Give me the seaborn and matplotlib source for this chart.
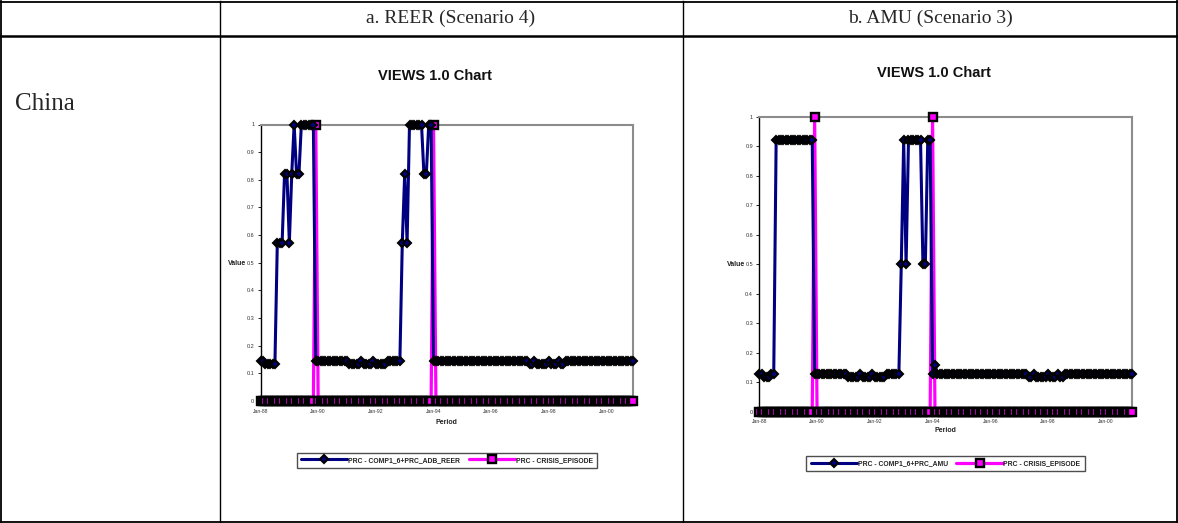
import matplotlib
matplotlib.use("Agg")
import matplotlib.pyplot as plt
from matplotlib.lines import Line2D
import numpy as np
import pandas as pd
import seaborn as sns

# ---------------------------------------------------------------- data
# Monthly observations, Jan-1988 .. Dec-2000 (one row of 12 per year)
reer_signal = [
    0.146, 0.146, 0.134, 0.134, 0.134, 0.134, 0.134, 0.573, 0.573, 0.573, 0.821, 0.821,  # 1988
    0.573, 0.821, 1.000, 0.821, 0.821, 1.000, 1.000, 1.000, 1.000, 1.000, 1.000, 0.146,  # 1989
    0.146, 0.146, 0.146, 0.146, 0.146, 0.146, 0.146, 0.146, 0.146, 0.146, 0.146, 0.146,  # 1990
    0.146, 0.134, 0.134, 0.134, 0.134, 0.134, 0.146, 0.134, 0.134, 0.134, 0.134, 0.146,  # 1991
    0.134, 0.134, 0.134, 0.134, 0.134, 0.146, 0.146, 0.146, 0.146, 0.146, 0.146, 0.573,  # 1992
    0.821, 0.573, 1.000, 1.000, 1.000, 1.000, 1.000, 1.000, 0.821, 0.821, 1.000, 1.000,  # 1993
    0.146, 0.146, 0.146, 0.146, 0.146, 0.146, 0.146, 0.146, 0.146, 0.146, 0.146, 0.146,  # 1994
    0.146, 0.146, 0.146, 0.146, 0.146, 0.146, 0.146, 0.146, 0.146, 0.146, 0.146, 0.146,  # 1995
    0.146, 0.146, 0.146, 0.146, 0.146, 0.146, 0.146, 0.146, 0.146, 0.146, 0.146, 0.146,  # 1996
    0.146, 0.146, 0.146, 0.146, 0.134, 0.134, 0.146, 0.134, 0.134, 0.134, 0.134, 0.134,  # 1997
    0.146, 0.134, 0.134, 0.134, 0.146, 0.134, 0.134, 0.146, 0.146, 0.146, 0.146, 0.146,  # 1998
    0.146, 0.146, 0.146, 0.146, 0.146, 0.146, 0.146, 0.146, 0.146, 0.146, 0.146, 0.146,  # 1999
    0.146, 0.146, 0.146, 0.146, 0.146, 0.146, 0.146, 0.146, 0.146, 0.146, 0.146, 0.146,  # 2000
]

amu_signal = [
    0.128, 0.128, 0.119, 0.119, 0.119, 0.128, 0.128, 0.921, 0.921, 0.921, 0.921, 0.921,  # 1988
    0.921, 0.921, 0.921, 0.921, 0.921, 0.921, 0.921, 0.921, 0.921, 0.921, 0.921, 0.128,  # 1989
    0.128, 0.128, 0.128, 0.128, 0.128, 0.128, 0.128, 0.128, 0.128, 0.128, 0.128, 0.128,  # 1990
    0.128, 0.119, 0.119, 0.119, 0.119, 0.119, 0.128, 0.119, 0.119, 0.119, 0.119, 0.128,  # 1991
    0.119, 0.119, 0.119, 0.119, 0.119, 0.128, 0.128, 0.128, 0.128, 0.128, 0.128, 0.500,  # 1992
    0.921, 0.500, 0.921, 0.921, 0.921, 0.921, 0.921, 0.921, 0.500, 0.500, 0.921, 0.921,  # 1993
    0.128, 0.159, 0.128, 0.128, 0.128, 0.128, 0.128, 0.128, 0.128, 0.128, 0.128, 0.128,  # 1994
    0.128, 0.128, 0.128, 0.128, 0.128, 0.128, 0.128, 0.128, 0.128, 0.128, 0.128, 0.128,  # 1995
    0.128, 0.128, 0.128, 0.128, 0.128, 0.128, 0.128, 0.128, 0.128, 0.128, 0.128, 0.128,  # 1996
    0.128, 0.128, 0.128, 0.128, 0.119, 0.119, 0.128, 0.119, 0.119, 0.119, 0.119, 0.119,  # 1997
    0.128, 0.119, 0.119, 0.119, 0.128, 0.119, 0.119, 0.128, 0.128, 0.128, 0.128, 0.128,  # 1998
    0.128, 0.128, 0.128, 0.128, 0.128, 0.128, 0.128, 0.128, 0.128, 0.128, 0.128, 0.128,  # 1999
    0.128, 0.128, 0.128, 0.128, 0.128, 0.128, 0.128, 0.128, 0.128, 0.128, 0.128, 0.128,  # 2000
]

crisis_episode = [
    0, 0, 0, 0, 0, 0, 0, 0, 0, 0, 0, 0,  # 1988
    0, 0, 0, 0, 0, 0, 0, 0, 0, 0, 0, 1,  # 1989
    0, 0, 0, 0, 0, 0, 0, 0, 0, 0, 0, 0,  # 1990
    0, 0, 0, 0, 0, 0, 0, 0, 0, 0, 0, 0,  # 1991
    0, 0, 0, 0, 0, 0, 0, 0, 0, 0, 0, 0,  # 1992
    0, 0, 0, 0, 0, 0, 0, 0, 0, 0, 0, 0,  # 1993
    1, 0, 0, 0, 0, 0, 0, 0, 0, 0, 0, 0,  # 1994
    0, 0, 0, 0, 0, 0, 0, 0, 0, 0, 0, 0,  # 1995
    0, 0, 0, 0, 0, 0, 0, 0, 0, 0, 0, 0,  # 1996
    0, 0, 0, 0, 0, 0, 0, 0, 0, 0, 0, 0,  # 1997
    0, 0, 0, 0, 0, 0, 0, 0, 0, 0, 0, 0,  # 1998
    0, 0, 0, 0, 0, 0, 0, 0, 0, 0, 0, 0,  # 1999
    0, 0, 0, 0, 0, 0, 0, 0, 0, 0, 0, 0,  # 2000
]

period_labels = pd.date_range("1988-01-01", periods=len(crisis_episode), freq="MS").strftime("%b-%y")
xtick_labels = ["Jan-88", "Jan-90", "Jan-92", "Jan-94", "Jan-96", "Jan-98", "Jan-00"]
ytick_labels = ["0", "0.1", "0.2", "0.3", "0.4", "0.5", "0.6", "0.7", "0.8", "0.9", "1"]

column_titles = ["a. REER (Scenario 4)", "b. AMU (Scenario 3)"]
row_title = "China"
chart_title = "VIEWS 1.0 Chart"
signal_names = ["PRC - COMP1_6+PRC_ADB_REER", "PRC - COMP1_6+PRC_AMU"]
crisis_name = "PRC - CRISIS_EPISODE"

# ---------------------------------------------------------------- style
sns.set_style("white")
plt.rcParams["font.family"] = ["Liberation Sans", "DejaVu Sans"]

NAVY = "#000080"
MAGENTA = "#FF00FF"
FRAME_GREY = "#8c8c8c"

SIGNAL_MARKER = dict(marker="D", markersize=4.3, markerfacecolor=NAVY,
                     markeredgecolor="black", markeredgewidth=1.5)
CRISIS_MARKER = dict(marker="s", markersize=5.2, markerfacecolor=MAGENTA,
                     markeredgecolor="black", markeredgewidth=1.7)

W, H = 1178, 523
fig = plt.figure(figsize=(W / 100, H / 100), dpi=100)
fig.patch.set_facecolor("white")


def fx(x):
    return x / W


def fy(y):
    return 1 - y / H


def hline(x0, x1, y, lw):
    fig.add_artist(Line2D([fx(x0), fx(x1)], [fy(y), fy(y)], transform=fig.transFigure,
                          color="black", lw=lw, solid_capstyle="projecting"))


def vline(x, y0, y1, lw):
    fig.add_artist(Line2D([fx(x), fx(x)], [fy(y0), fy(y1)], transform=fig.transFigure,
                          color="black", lw=lw, solid_capstyle="projecting"))


# ---------------------------------------------------------------- table grid
hline(1, 1177, 1.5, 1.3)
hline(1, 1177, 36, 1.8)
hline(1, 1177, 521.5, 1.3)
vline(1, 1, 522, 1.3)
vline(220, 1, 522, 1.0)
vline(683, 1, 522, 1.0)
vline(1176.5, 1, 522, 1.3)

serif = ["Liberation Serif", "DejaVu Serif"]
fig.text(fx(451), fy(18), column_titles[0], family=serif, fontsize=14, ha="center", va="center")
fig.text(fx(930), fy(18), column_titles[1], family=serif, fontsize=14, ha="center", va="center")
fig.text(fx(15), fy(104), row_title, family=serif, fontsize=18, ha="left", va="center")


# ---------------------------------------------------------------- charts
def draw_chart(box, signal, signal_name, title_xy, value_xy, period_xy, legend_xy):
    left, top, right, bottom = box
    ax = fig.add_axes([fx(left), fy(bottom), (right - left) / W, (bottom - top) / H])
    ax.set_facecolor("white")

    months = np.arange(len(crisis_episode))
    crisis_df = pd.DataFrame({"month": months, "value": crisis_episode, "period": period_labels})
    signal_df = pd.DataFrame({"month": months, "value": signal, "period": period_labels})

    sns.lineplot(data=crisis_df, x="month", y="value", ax=ax, color=MAGENTA, lw=2.3,
                 clip_on=False, zorder=3, **CRISIS_MARKER)
    sns.lineplot(data=signal_df, x="month", y="value", ax=ax, color=NAVY, lw=2.2,
                 clip_on=False, zorder=4, **SIGNAL_MARKER)

    ax.set_xlim(0, len(crisis_episode) - 1)
    ax.set_ylim(0, 1)
    ax.set_xticks(np.arange(0, len(crisis_episode), 24), xtick_labels)
    ax.set_yticks(np.linspace(0, 1, 11), ytick_labels)
    ax.tick_params(axis="y", length=2, width=0.6, pad=2.5, labelsize=4, labelcolor="#333333",
                   left=True, color="black")
    ax.tick_params(axis="x", length=0, pad=5.5, labelsize=3.6, labelcolor="#333333")
    ax.set_xlabel("")
    ax.set_ylabel("")
    ax.grid(False)

    for side in ("top", "right"):
        ax.spines[side].set_color(FRAME_GREY)
        ax.spines[side].set_linewidth(1.5)
    for side in ("left", "bottom"):
        ax.spines[side].set_color("black")
        ax.spines[side].set_linewidth(1.0)

    fig.text(fx(title_xy[0]), fy(title_xy[1]), chart_title, fontsize=10.5, weight="bold",
             ha="center", va="center", color="#111111")
    fig.text(fx(value_xy[0]), fy(value_xy[1]), "Value", fontsize=5, weight="bold",
             ha="center", va="center", color="#222222")
    fig.text(fx(period_xy[0]), fy(period_xy[1]), "Period", fontsize=5, weight="bold",
             ha="center", va="center", color="#222222")

    handles = [
        Line2D([], [], color=NAVY, lw=2.2, **SIGNAL_MARKER),
        Line2D([], [], color=MAGENTA, lw=2.3, **CRISIS_MARKER),
    ]
    leg = fig.legend(handles, [signal_name, crisis_name], loc="center",
                     bbox_to_anchor=(fx(legend_xy[0]), fy(legend_xy[1])), ncol=2,
                     prop={"weight": "bold", "size": 4.9}, handlelength=6.8, handletextpad=0.1,
                     columnspacing=1.3, frameon=True, fancybox=False, borderpad=0.6,
                     borderaxespad=0)
    leg.get_frame().set_edgecolor("#222222")
    leg.get_frame().set_linewidth(1.0)
    for t in leg.get_texts():
        t.set_color("#222222")
    return ax


draw_chart((260.5, 124.5, 633, 401), reer_signal, signal_names[0],
           title_xy=(434.7, 76), value_xy=(237.5, 263.5), period_xy=(446.7, 422.7),
           legend_xy=(446.7, 460.2))
draw_chart((759.3, 117, 1132.3, 411.7), amu_signal, signal_names[1],
           title_xy=(933.8, 73.3), value_xy=(736, 264.3), period_xy=(945.8, 430.7),
           legend_xy=(945.5, 463.5))

fig.savefig("out.png", dpi=100, facecolor="white")
